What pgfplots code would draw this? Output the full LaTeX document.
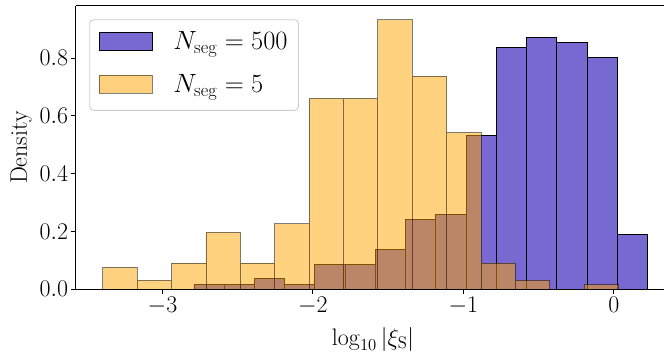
\documentclass[border=0pt]{standalone}
\usepackage{fix-cm}
\usepackage{pgfplots}
\pgfplotsset{compat=1.18}
\definecolor{bluebar}{HTML}{7868D2}
\definecolor{orangebar}{HTML}{FFA500}
\newcommand{\bigfont}{\fontsize{24}{28}\selectfont}
\newcommand{\legfont}{\fontsize{26.5}{31}\selectfont}
\begin{document}
\begin{tikzpicture}
\begin{axis}[
  name=ax,
  scale only axis, width=588bp, height=283bp,
  xmin=-3.575, xmax=0.334, ymin=0, ymax=0.981,
  axis x line*=box, axis y line*=left,
  axis line style={line width=1bp, black},
  xtick pos=bottom, ytick pos=left,
  tick align=outside,
  major tick length=4.5bp,
  every tick/.style={black, line width=0.9bp},
  xtick={-3,-2,-1,0},
  ytick={0,0.2,0.4,0.6,0.8},
  yticklabel style={/pgf/number format/.cd, fixed, fixed zerofill, precision=1},
  tick label style={font=\bigfont},
  label style={font=\bigfont},
  xlabel={$\log_{10}|\xi_{\mathrm{S}}|$},
  ylabel={Density},
  xlabel style={at={(axis description cs:0.505,-0.198)}, anchor=base},
  ylabel style={at={(axis description cs:-0.0935,0.5)}, anchor=center},
  legend style={at={(axis description cs:0.0226,0.953)}, anchor=north west,
    draw=black!20, line width=0.8bp, rounded corners=4bp, fill=white,
    font=\legfont, inner xsep=9bp, inner ysep=10bp, row sep=19bp},
  legend cell align=left,
]
\addplot[ybar interval, fill=bluebar, draw=black, line width=0.8bp, forget plot] coordinates {
  (-2.791,0.0173) (-2.590,0.0173) (-2.389,0.0357) (-2.188,0.0173) (-1.987,0.0866)
  (-1.786,0.0866) (-1.585,0.138) (-1.384,0.240) (-1.183,0.257) (-0.982,0.531)
  (-0.781,0.838) (-0.580,0.873) (-0.379,0.855) (-0.178,0.803) (0.023,0.188)
  (0.224,0)
};
\addplot[ybar interval, fill=orangebar, fill opacity=0.5, draw=black, draw opacity=0.5, line width=0.8bp, forget plot] coordinates {
  (-3.397,0.0748) (-3.168,0.0298) (-2.940,0.090) (-2.711,0.196) (-2.483,0.090)
  (-2.254,0.226) (-2.025,0.661) (-1.797,0.661) (-1.568,0.933) (-1.340,0.738)
  (-1.111,0.542) (-0.882,0.090) (-0.654,0.0298) (-0.425,0) (-0.197,0.0149)
  (0.032,0)
};
\addlegendimage{legend image code/.code={\draw[sharp corners,fill=bluebar,draw=black,line width=0.8bp] (0bp,-9bp) rectangle (53bp,9bp); \path (72bp,0bp);}}
\addlegendentry{$N_{\mathrm{seg}}=500$}
\addlegendimage{legend image code/.code={\draw[sharp corners,fill=orangebar,fill opacity=0.5,draw=black,draw opacity=0.5,line width=0.8bp] (0bp,-9bp) rectangle (53bp,9bp); \path (72bp,0bp) (0bp,-16bp);}}
\addlegendentry{$N_{\mathrm{seg}}=5$}
\end{axis}
\pgfresetboundingbox
\path[use as bounding box] ([xshift=-76bp,yshift=-65bp]ax.south west) rectangle ([yshift=6bp]ax.north east);
\end{tikzpicture}
\end{document}
